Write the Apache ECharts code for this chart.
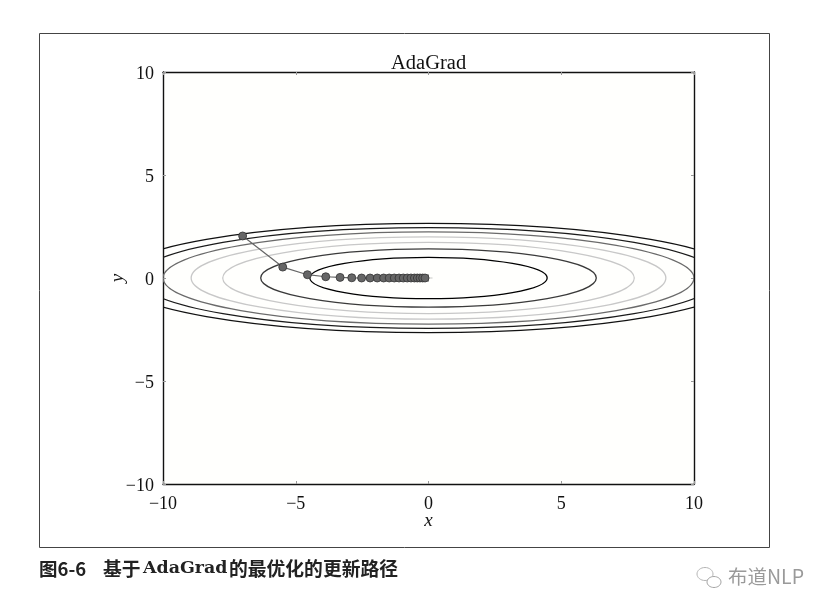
<!DOCTYPE html>
<html><head><meta charset="utf-8">
<style>html,body{margin:0;padding:0;background:#fff}#c{width:832px;height:614px}</style>
<script src="https://cdn.jsdelivr.net/npm/echarts@6/dist/echarts.min.js"></script>
</head><body><div id="c"></div>
<script>
var tickValues = [-10, -5, 0, 5, 10];
// contour ellipses, outermost first
var contourHalfWidth  = [11.83, 10.95, 10.0, 8.94, 7.75, 6.32, 4.47];
var contourHalfHeight = [2.65, 2.45, 2.24, 2.0, 1.73, 1.41, 1.0];
var contourColors = ['#111111', '#1a1a1a', '#6a6a6a', '#c8c8c8', '#c8c8c8', '#3a3a3a', '#000000'];
var pathX = [-7, -5.49, -4.56, -3.87, -3.33, -2.89, -2.52, -2.2, -1.93, -1.69, -1.48, -1.29, -1.11, -0.95, -0.8, -0.66, -0.53, -0.42, -0.32, -0.22, -0.13];
var pathY = [2.04, 0.53, 0.16, 0.06, 0.03, 0.01, 0, 0, 0, 0, 0, 0, 0, 0, 0, 0, 0, 0, 0, 0, 0];
var originMark = [[0, 0]];
var titleText = 'AdaGrad';
var captionLabel = '图6-6';
var captionHead = '基于';
var captionAlgo = 'AdaGrad';
var captionTail = '的最优化的更新路径';
var watermarkText = '布道NLP';

var serif = '"Liberation Serif","Noto Sans CJK SC",serif';
var chart = echarts.init(document.getElementById('c'), null, {renderer: 'canvas'});

function fmt(v) { return String(v).replace('-', '\u2212'); }
var ticksIn = {show: true, inside: true, length: 3, lineStyle: {color: '#999', width: 1}};
var frameLine = {show: true, onZero: false, lineStyle: {color: '#111', width: 1.4}};
var axisBase = {type: 'value', min: -10, max: 10, interval: 5, splitLine: {show: false}, axisLine: frameLine, axisTick: ticksIn};
var labelStyle = {show: true, color: '#111', fontFamily: serif, fontSize: 18, formatter: fmt};
var capStyle = {fontFamily: '"Noto Sans CJK SC",sans-serif', fontWeight: 'bold', fontSize: 18.8, fill: '#222'};
var capSerif = {fontFamily: '"DejaVu Serif",serif', fontWeight: 'bold', fontSize: 17.4, fill: '#222'};

chart.setOption({
  animation: false,
  backgroundColor: '#fff',
  title: {text: titleText, left: 386, top: 48,
    textStyle: {fontFamily: serif, fontWeight: 'normal', fontSize: 20.5, color: '#111'}},
  grid: {left: 163, right: 138, top: 72, bottom: 130, backgroundColor: '#fffffd', show: true, borderWidth: 0},
  xAxis: [
    Object.assign({}, axisBase, {position: 'bottom', axisLabel: Object.assign({}, labelStyle, {margin: 11}),
      name: 'x', nameLocation: 'middle', nameGap: 27, nameMoveOverlap: false,
      nameTextStyle: {fontFamily: serif, fontStyle: 'italic', fontSize: 19, color: '#111'}}),
    Object.assign({}, axisBase, {position: 'top', axisLabel: {show: false}})
  ],
  yAxis: [
    Object.assign({}, axisBase, {position: 'left', axisLabel: Object.assign({}, labelStyle, {margin: 9, verticalAlign: 'top', lineHeight: 4}),
      name: 'y', nameLocation: 'middle', nameGap: 35, nameMoveOverlap: false,
      nameTextStyle: {fontFamily: serif, fontStyle: 'italic', fontSize: 19, color: '#111'}}),
    Object.assign({}, axisBase, {position: 'right', axisLabel: {show: false}})
  ],
  graphic: [
    {type: 'rect', shape: {x: 39.5, y: 33.5, width: 730, height: 514}, style: {fill: 'none', stroke: '#444', lineWidth: 1}},
    {type: 'text', x: 39, y: 560, style: {text: captionLabel, fontFamily: '"Noto Sans CJK SC",sans-serif', fontWeight: 'bold', fontSize: 18.5, fill: '#222'}},
    {type: 'text', x: 103, y: 559, style: Object.assign({text: captionHead}, capStyle)},
    {type: 'text', x: 143, y: 560, style: Object.assign({text: captionAlgo}, capSerif)},
    {type: 'text', x: 229, y: 559, style: Object.assign({text: captionTail}, capStyle)},
    {type: 'text', left: 728, top: 567, style: {text: watermarkText, fontFamily: '"Noto Sans CJK SC",sans-serif', fontSize: 19.5, fill: '#9a9a9a'}},
    {type: 'ellipse', shape: {cx: 705, cy: 574, rx: 8, ry: 6.5}, style: {fill: '#fff', stroke: '#b5b5b5', lineWidth: 1}},
    {type: 'ellipse', shape: {cx: 714, cy: 582, rx: 7, ry: 5.5}, style: {fill: '#fff', stroke: '#a5a5a5', lineWidth: 1}}
  ],
  series: [
    {
      type: 'custom', xAxisIndex: 0, yAxisIndex: 0, clip: true, z: 2,
      data: contourHalfWidth.map(function (w, i) { return [w, contourHalfHeight[i], i]; }),
      encode: {x: 0, y: 1},
      renderItem: function (params, api) {
        var c = api.coord([0, 0]);
        var e = api.coord([api.value(0), api.value(1)]);
        var cs = params.coordSys;
        return {
          type: 'ellipse',
          shape: {cx: c[0], cy: c[1], rx: e[0] - c[0], ry: c[1] - e[1]},
          style: {fill: 'none', stroke: contourColors[api.value(2)], lineWidth: 1.3},
          clipPath: {type: 'rect', shape: {x: cs.x, y: cs.y, width: cs.width, height: cs.height}}
        };
      }
    },
    {
      type: 'line', xAxisIndex: 0, yAxisIndex: 0, z: 3, silent: true,
      data: pathX.map(function (x, i) { return [x, pathY[i]]; }),
      symbol: 'circle', symbolSize: 8, showSymbol: true, showAllSymbols: true,
      lineStyle: {color: '#666', width: 1.2},
      itemStyle: {color: '#666', borderColor: '#333', borderWidth: 0.8}
    },
    {
      type: 'scatter', xAxisIndex: 0, yAxisIndex: 0, z: 2.5, silent: true,
      data: originMark,
      symbol: 'path://M5.5 0H6.5V5.5H12V6.5H6.5V12H5.5V6.5H0V5.5H5.5Z', symbolSize: 8,
      itemStyle: {color: '#777'}
    }
  ]
});
</script></body></html>
